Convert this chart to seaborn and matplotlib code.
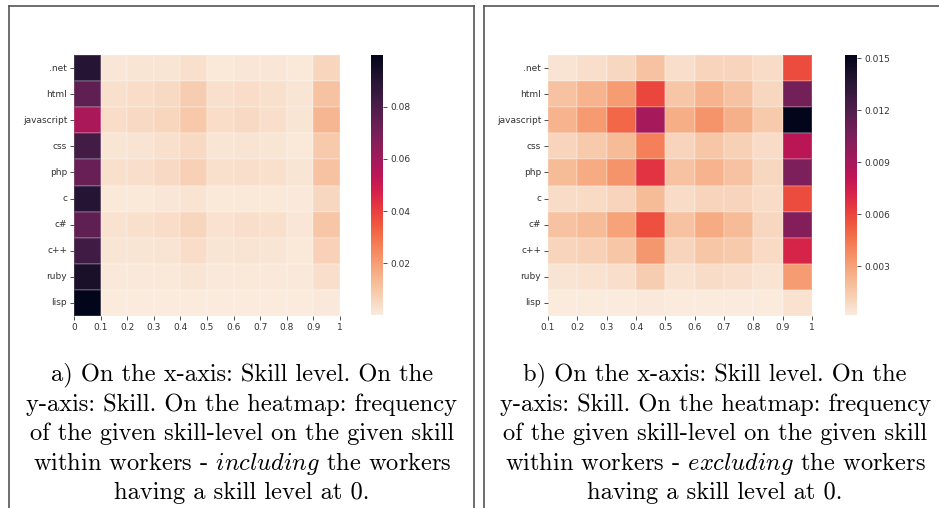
import numpy as np
import pandas as pd
import matplotlib
matplotlib.use("Agg")
import matplotlib.pyplot as plt
import seaborn as sb
from matplotlib.lines import Line2D

skills = [".net", "html", "javascript", "css", "php", "c", "c#", "c++", "ruby", "lisp"]
levels_incl = ["0", "0.1", "0.2", "0.3", "0.4", "0.5", "0.6", "0.7", "0.8", "0.9", "1"]
levels_excl = ["0.1", "0.2", "0.3", "0.4", "0.5", "0.6", "0.7", "0.8", "0.9", "1"]

# frequency incl. workers at level 0 (columns 0-0.1 ... 0.9-1)
freq_incl = [
    [0.090, 0.0015, 0.0018, 0.0020, 0.0030, 0.0010, 0.0016, 0.0016, 0.0010, 0.0060],
    [0.075, 0.0030, 0.0040, 0.0050, 0.0080, 0.0030, 0.0040, 0.0030, 0.0018, 0.0110],
    [0.058, 0.0040, 0.0050, 0.0060, 0.0095, 0.0040, 0.0050, 0.0035, 0.0020, 0.0140],
    [0.082, 0.0020, 0.0022, 0.0030, 0.0050, 0.0020, 0.0025, 0.0020, 0.0012, 0.0090],
    [0.073, 0.0030, 0.0035, 0.0050, 0.0075, 0.0030, 0.0035, 0.0030, 0.0018, 0.0110],
    [0.090, 0.0010, 0.0012, 0.0015, 0.0022, 0.0010, 0.0012, 0.0012, 0.0008, 0.0055],
    [0.075, 0.0028, 0.0030, 0.0040, 0.0060, 0.0028, 0.0035, 0.0030, 0.0015, 0.0100],
    [0.083, 0.0018, 0.0020, 0.0025, 0.0040, 0.0018, 0.0022, 0.0020, 0.0010, 0.0070],
    [0.093, 0.0008, 0.0009, 0.0010, 0.0018, 0.0008, 0.0010, 0.0008, 0.0006, 0.0035],
    [0.0998, 0.0003, 0.0003, 0.0004, 0.0005, 0.0003, 0.0003, 0.0003, 0.0002, 0.0008],
]

# frequency excl. workers at level 0 (columns 0.1-0.2 ... 0.9-1)
freq_excl = [
    [0.0005, 0.0007, 0.0010, 0.0018, 0.0007, 0.0011, 0.0011, 0.0008, 0.0058],
    [0.0018, 0.0024, 0.0032, 0.0060, 0.0017, 0.0024, 0.0018, 0.0010, 0.0108],
    [0.0024, 0.0033, 0.0050, 0.0090, 0.0026, 0.0035, 0.0025, 0.0015, 0.0152],
    [0.0011, 0.0015, 0.0021, 0.0042, 0.0011, 0.0017, 0.0013, 0.0008, 0.0083],
    [0.0021, 0.0027, 0.0035, 0.0066, 0.0018, 0.0024, 0.0018, 0.0010, 0.0104],
    [0.0008, 0.0009, 0.0011, 0.0021, 0.0008, 0.0011, 0.0011, 0.0008, 0.0058],
    [0.0018, 0.0021, 0.0030, 0.0057, 0.0018, 0.0027, 0.0021, 0.0010, 0.0102],
    [0.0011, 0.0013, 0.0017, 0.0034, 0.0011, 0.0017, 0.0015, 0.0009, 0.0072],
    [0.0005, 0.0006, 0.0007, 0.0014, 0.0006, 0.0008, 0.0007, 0.0005, 0.0032],
    [0.0002, 0.0002, 0.0002, 0.0003, 0.0002, 0.0002, 0.0002, 0.0002, 0.0006],
]

captions = [
    ["a) On the x-axis: Skill level. On the",
     "y-axis: Skill. On the heatmap: frequency",
     "of the given skill-level on the given skill",
     r"within workers - $\mathit{including}$ the workers",
     "having a skill level at 0."],
    ["b) On the x-axis: Skill level. On the",
     "y-axis: Skill. On the heatmap: frequency",
     "of the given skill-level on the given skill",
     r"within workers - $\mathit{excluding}$ the workers",
     "having a skill level at 0."],
]

plt.rcParams["mathtext.fontset"] = "cm"
plt.rcParams["axes.unicode_minus"] = False

W, H = 939, 508
fig = plt.figure(figsize=(W / 100, H / 100), dpi=100)


def box(x0, x1, y0, y1):
    return [x0 / W, (H - y1) / H, (x1 - x0) / W, (y1 - y0) / H]


df_a = pd.DataFrame(freq_incl, index=skills, columns=levels_incl[:-1])
df_b = pd.DataFrame(freq_excl, index=skills, columns=levels_excl[:-1])

ax_a = fig.add_axes(box(74, 340, 55, 316))
cax_a = fig.add_axes(box(371, 383, 55, 315))
ax_b = fig.add_axes(box(548, 812, 55, 316))
cax_b = fig.add_axes(box(845, 857, 55, 315))

sb.heatmap(df_a, ax=ax_a, cbar_ax=cax_a, cmap="rocket_r",
           linewidths=0.2, linecolor=(1, 1, 1, 0.15))
sb.heatmap(df_b, ax=ax_b, cbar_ax=cax_b, cmap="rocket_r",
           linewidths=0.2, linecolor=(1, 1, 1, 0.15))

for ax, labs in [(ax_a, levels_incl), (ax_b, levels_excl)]:
    ax.set_xticks(np.arange(len(labs)))
    ax.set_xticklabels(labs, rotation=0, fontsize=6.5)
    ax.set_yticklabels(skills, rotation=0, fontsize=6.5)
    ax.tick_params(length=3, width=0.6, pad=2, colors="#333333")
    ax.set_xlabel("")
    ax.set_ylabel("")

cax_a.set_yticks([0.02, 0.04, 0.06, 0.08])
cax_a.set_yticklabels(["0.02", "0.04", "0.06", "0.08"])
cax_b.set_yticks([0.003, 0.006, 0.009, 0.012, 0.015])
cax_b.set_yticklabels(["0.003", "0.006", "0.009", "0.012", "0.015"])
for cax in (cax_a, cax_b):
    cax.tick_params(labelsize=6.5, length=3, width=0.6, pad=2, colors="#333333")

# frames around the two sub-figures
col = "#555555"
for x in [9, 474, 484]:
    fig.add_artist(Line2D([x / W, x / W], [0, (H - 6) / H], color=col, lw=1.2))
fig.add_artist(Line2D([9 / W, 474 / W], [(H - 6) / H] * 2, color=col, lw=1.2))
fig.add_artist(Line2D([484 / W, 1], [(H - 6) / H] * 2, color=col, lw=1.2))

line_y = [375, 404.5, 434, 463.5, 493]
for cx, lines in [(242, captions[0]), (715, captions[1])]:
    for yy, txt in zip(line_y, lines):
        fig.text(cx / W, (H - yy) / H, txt, ha="center", va="center",
                 fontsize=17.6, family="cmr10")

fig.savefig("out.png", dpi=100)
